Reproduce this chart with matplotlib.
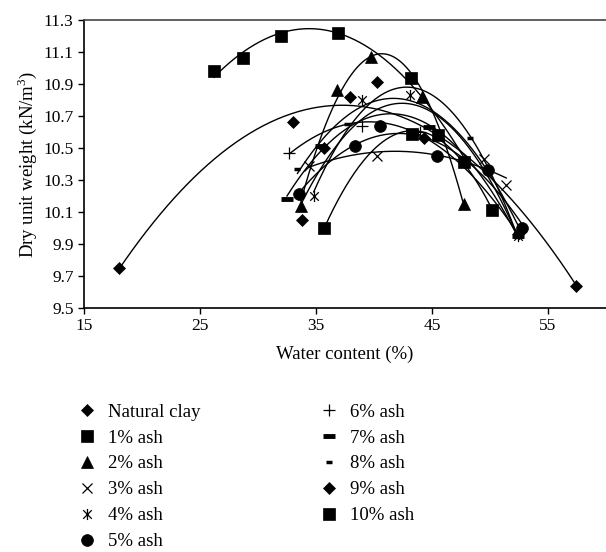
import numpy as np
import matplotlib
matplotlib.use("Agg")
from matplotlib import pyplot as plt
from matplotlib.path import Path
from matplotlib.lines import Line2D

plt.rcParams["font.family"] = ["Liberation Serif", "DejaVu Serif"]
plt.rcParams["mathtext.fontset"] = "custom"
plt.rcParams["mathtext.rm"] = "Liberation Serif"

# water content (%) / dry unit weight (kN/m3)
clayW = [18.0, 33.0, 37.9, 57.4]
clayD = [9.75, 10.66, 10.82, 9.64]
ash1W = [26.2, 28.7, 32.0, 36.9, 43.2, 47.8]
ash1D = [10.98, 11.06, 11.20, 11.22, 10.94, 10.41]
ash2W = [33.7, 36.8, 39.7, 44.1, 47.8]
ash2D = [10.14, 10.86, 11.07, 10.82, 10.15]
ash3W = [34.4, 40.3, 49.5, 51.4]
ash3D = [10.39, 10.45, 10.43, 10.27]
ash4W = [34.8, 39.0, 43.1, 52.4]
ash4D = [10.20, 10.80, 10.83, 9.95]
ash5W = [33.5, 38.4, 40.5, 45.4, 49.8, 52.8]
ash5D = [10.21, 10.51, 10.64, 10.45, 10.36, 10.00]
ash6W = [32.7, 39.0, 44.0, 52.4]
ash6D = [10.47, 10.64, 10.60, 9.96]
ash7W = [32.5, 35.4, 44.7, 52.4]
ash7D = [10.18, 10.51, 10.63, 9.95]
ash8W = [33.4, 37.7, 48.3, 52.6]
ash8D = [10.37, 10.65, 10.56, 9.96]
ash9W = [33.8, 35.7, 40.3, 44.3, 52.5]
ash9D = [10.05, 10.50, 10.91, 10.56, 9.97]
ash10W = [35.7, 43.3, 45.5, 50.2]
ash10D = [10.00, 10.59, 10.58, 10.11]

labels = ["Natural clay", "1% ash", "2% ash", "3% ash", "4% ash", "5% ash",
          "6% ash", "7% ash", "8% ash", "9% ash", "10% ash"]
xTicks = [15, 25, 35, 45, 55]
yTicks = [9.5, 9.7, 9.9, 10.1, 10.3, 10.5, 10.7, 10.9, 11.1, 11.3]

# x with a vertical bar for the 4% series
starPath = Path([(-1, -1), (1, 1), (-1, 1), (1, -1), (0, -1.3), (0, 1.3)],
                [Path.MOVETO, Path.LINETO, Path.MOVETO, Path.LINETO, Path.MOVETO, Path.LINETO])

styles = [
    dict(marker="D", ms=6.5, mfc="black", mec="black", mew=0.5),
    dict(marker="s", ms=8.5, mfc="black", mec="black", mew=0.5),
    dict(marker="^", ms=8.5, mfc="black", mec="black", mew=0.5),
    dict(marker="x", ms=7, mfc="none", mec="black", mew=0.9),
    dict(marker=starPath, ms=8, mfc="none", mec="black", mew=0.9),
    dict(marker="o", ms=8.5, mfc="black", mec="black", mew=0.5),
    dict(marker="+", ms=8, mfc="none", mec="black", mew=0.9),
    dict(marker="_", ms=9, mfc="black", mec="black", mew=3.5),
    dict(marker="_", ms=5, mfc="black", mec="black", mew=2.5),
    dict(marker="D", ms=6.5, mfc="black", mec="black", mew=0.5),
    dict(marker="s", ms=8.5, mfc="black", mec="black", mew=0.5),
]

series = [(clayW, clayD), (ash1W, ash1D), (ash2W, ash2D), (ash3W, ash3D), (ash4W, ash4D),
          (ash5W, ash5D), (ash6W, ash6D), (ash7W, ash7D), (ash8W, ash8D), (ash9W, ash9D),
          (ash10W, ash10D)]

fig = plt.figure(figsize=(6.06, 5.52), dpi=100)
ax = fig.add_axes([84/606, (552-308)/552, 522/606, 288/552])

handles = []
for (w, d), st, lab in zip(series, styles, labels):
    # 2nd order trendline like the spreadsheet one
    coef = np.polyfit(w, d, 2)
    xs = np.linspace(min(w), max(w), 200)
    ax.plot(xs, np.polyval(coef, xs), color="black", lw=1.0, zorder=2)
    ax.plot(w, d, ls="none", zorder=3, **st)
    handles.append(Line2D([], [], ls="none", **st))

ax.set_xlim(15, 60)
ax.set_ylim(9.5, 11.3)
ax.set_xticks(xTicks)
ax.set_yticks(yTicks)
ax.set_yticklabels(["%.1f" % v for v in yTicks])
ax.tick_params(direction="out", length=4, width=1, labelsize=12.5, colors="black")
ax.spines["right"].set_visible(False)
ax.spines["top"].set_color("#444444")
for s in ["left", "bottom", "top"]:
    ax.spines[s].set_linewidth(1.2)
ax.set_xlabel("Water content (%)", fontsize=13.5, labelpad=8)
ax.set_ylabel("Dry unit weight (kN/m$^3$)", fontsize=13.5, labelpad=3)

fig.legend(handles, labels, ncol=2, loc="upper left", bbox_to_anchor=(70/606, 1 - 396/552),
           frameon=False, fontsize=13.5, handlelength=1.0, handletextpad=0.6,
           columnspacing=6.4, labelspacing=0.47, borderaxespad=0)

fig.savefig("out.png", dpi=100)
